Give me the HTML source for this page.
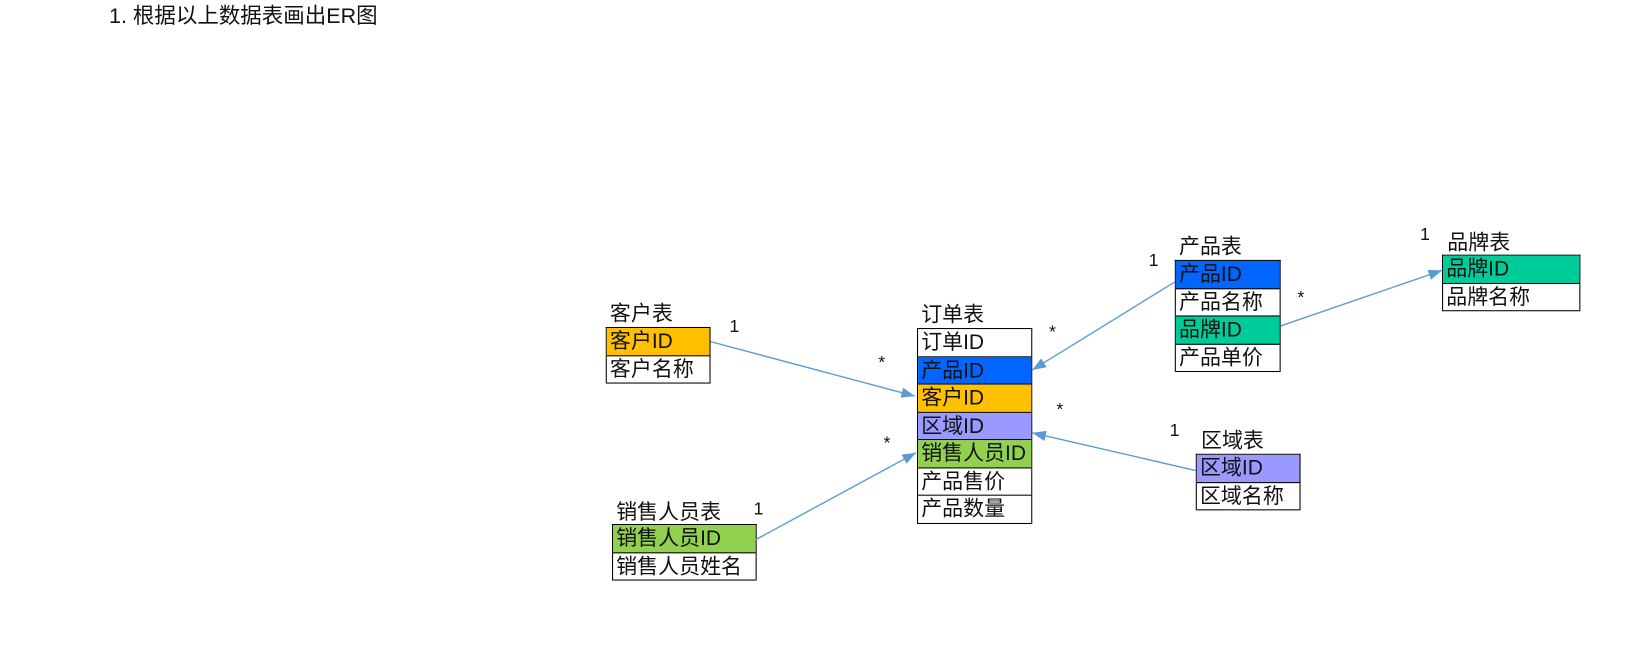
<!DOCTYPE html>
<html><head><meta charset="utf-8"><style>
body{margin:0;width:1643px;height:650px;background:#fff;position:relative;overflow:hidden;font-family:"Liberation Sans","Noto Sans CJK SC",sans-serif;color:#111}
#w{position:absolute;left:0;top:0;width:1568px;height:620px;transform:scale(1.048);transform-origin:0 0}
.t{position:absolute;font-size:20px;line-height:22px;white-space:nowrap}
.box{position:absolute;border:1px solid #000;border-bottom:none;box-sizing:border-box}
.box div{height:26.5px;border-bottom:1px solid #000;box-sizing:border-box;font-size:20px;line-height:26px;padding-left:3px;white-space:nowrap;overflow:hidden}
.l{position:absolute;font-size:17px;white-space:nowrap}
svg{position:absolute;left:0;top:0}
</style></head><body><div id="w">
<div class="t" style="left:104px;top:5px;font-size:20.5px">1. 根据以上数据表画出ER图</div>

<div class="t" style="left:582px;top:289px">客户表</div>
<div class="box" style="left:578px;top:312px;width:100px"><div style="background:#FFC000">客户ID</div><div>客户名称</div></div>

<div class="t" style="left:879px;top:290px">订单表</div>
<div class="box" style="left:875px;top:313px;width:110px">
<div>订单ID</div><div style="background:#0066FF">产品ID</div><div style="background:#FFC000">客户ID</div><div style="background:#9999FF">区域ID</div><div style="background:#92D050">销售人员ID</div><div>产品售价</div><div>产品数量</div></div>

<div class="t" style="left:1125px;top:225px">产品表</div>
<div class="box" style="left:1121px;top:248px;width:101px">
<div style="background:#0066FF">产品ID</div><div>产品名称</div><div style="background:#00CC99">品牌ID</div><div>产品单价</div></div>

<div class="t" style="left:1381px;top:221px">品牌表</div>
<div class="box" style="left:1376px;top:243px;width:132px">
<div style="background:#00CC99">品牌ID</div><div>品牌名称</div></div>

<div class="t" style="left:1146px;top:410px">区域表</div>
<div class="box" style="left:1141px;top:433px;width:100px">
<div style="background:#9999FF">区域ID</div><div>区域名称</div></div>

<div class="t" style="left:588px;top:478px">销售人员表</div>
<div class="box" style="left:584px;top:500px;width:138px">
<div style="background:#92D050">销售人员ID</div><div>销售人员姓名</div></div>

<svg width="1568" height="620">
<defs><marker id="a" markerWidth="13" markerHeight="10" refX="13" refY="5" orient="auto" markerUnits="userSpaceOnUse"><path d="M0,0L13,5L0,10z" fill="#5B9BD5"/></marker></defs>
<g stroke="#5B9BD5" stroke-width="1.3" fill="none" marker-end="url(#a)">
<line x1="678" y1="326" x2="873" y2="378"/>
<line x1="721" y1="515" x2="874" y2="432"/>
<line x1="1121" y1="269" x2="985" y2="353"/>
<line x1="1222" y1="311" x2="1376" y2="258"/>
<line x1="1141" y1="449" x2="985" y2="413"/>
</g></svg>

<div class="l" style="left:696px;top:302px">1</div>
<div class="l" style="left:838px;top:336px">*</div>
<div class="l" style="left:843px;top:413px">*</div>
<div class="l" style="left:719px;top:476px">1</div>
<div class="l" style="left:1096px;top:239px">1</div>
<div class="l" style="left:1001px;top:307px">*</div>
<div class="l" style="left:1008px;top:381px">*</div>
<div class="l" style="left:1116px;top:401px">1</div>
<div class="l" style="left:1238px;top:274px">*</div>
<div class="l" style="left:1355px;top:214px">1</div>
</div></body></html>
